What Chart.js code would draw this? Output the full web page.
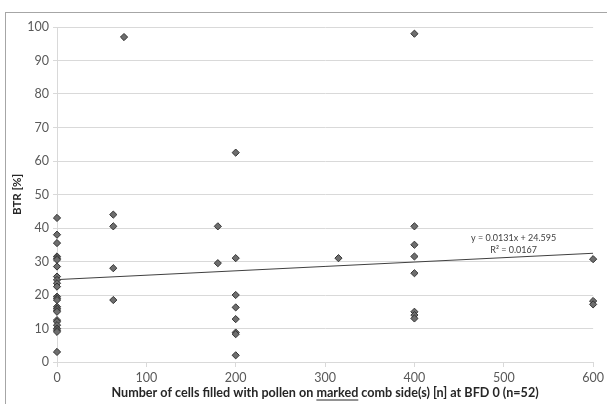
<!DOCTYPE html>
<html>
<head>
<meta charset="utf-8">
<script src="https://cdn.jsdelivr.net/npm/chart.js@4/dist/chart.umd.min.js"></script>
<style>
  html, body { margin: 0; padding: 0; background: #fff; overflow: hidden; }
  #wrap { position: relative; width: 607px; height: 404px; }
  #frame { position: absolute; left: 5px; top: 12px; width: 620px; height: 420px; border: 1px solid #a6a6a6; box-sizing: border-box; }
  canvas { position: absolute; left: 0; top: 0; }
</style>
</head>
<body>
<div id="wrap">
  <div id="frame"></div>
  <canvas id="btr-chart" width="607" height="404"></canvas>
</div>
<script>
// pollen cells per comb side (x) and BTR in % (y)
var cells0 = [0, 0, 0, 0, 0, 0, 0, 0, 0, 0, 0, 0, 0, 0, 0, 0, 0, 0, 0, 0, 0, 0, 0, 0, 0];
var btr0 = [43, 38, 35.5, 31.5, 31, 30.5, 28.5, 25.5, 24.5, 23.5, 22.5, 19.5, 19, 18.5, 16.5, 16, 15.5, 15, 12.5, 12, 11, 10, 9.5, 9, 3];
var cellsMid = [63, 63, 63, 63, 75, 180, 180, 200, 200, 200, 200, 200, 200, 200, 200, 315];
var btrMid = [44, 40.5, 28, 18.5, 97, 40.5, 29.5, 62.5, 31, 20, 16.3, 12.8, 8.8, 8.3, 2, 31];
var cellsHigh = [400, 400, 400, 400, 400, 400, 400, 400, 600, 600, 600];
var btrHigh = [98, 40.5, 35, 31.5, 26.5, 15, 14, 13, 30.7, 18.2, 17.2];

// linear trend shown in the chart
var trendSlope = 0.0131;
var trendIntercept = 24.595;
var trendLabel = ['y = 0.0131x + 24.595', 'R\u00b2 = 0.0167'];

var yTicks = [0, 10, 20, 30, 40, 50, 60, 70, 80, 90, 100];
var xTicks = [0, 100, 200, 300, 400, 500, 600];

var xTitleParts = ['Number of cells filled with pollen on ', 'marked', ' comb side(s) [n] at BFD 0 (n=52)'];
var yTitle = 'BTR [%]';

var points = [];
var allX = cells0.concat(cellsMid, cellsHigh);
var allY = btr0.concat(btrMid, btrHigh);
for (var i = 0; i < allX.length; i++) {
  points.push({ x: allX[i], y: allY[i] });
}

var trend = [
  { x: 0, y: trendIntercept },
  { x: 600, y: trendIntercept + trendSlope * 600 }
];

var FONT = 'Lato, "Open Sans", sans-serif';

// draws axis titles (with the underlined word) and the trend equation
var titlesPlugin = {
  id: 'titles',
  afterDraw: function(chart) {
    var ctx = chart.ctx;
    var area = chart.chartArea;
    ctx.save();
    ctx.fillStyle = '#262626';
    ctx.strokeStyle = '#262626';
    ctx.font = 'bold 12.6px ' + FONT;
    ctx.textBaseline = 'middle';

    // x title
    var total = 0;
    for (var i = 0; i < xTitleParts.length; i++) total += ctx.measureText(xTitleParts[i]).width;
    var x = (area.left + area.right) / 2 - total / 2;
    var y = 393;
    ctx.textAlign = 'left';
    for (var j = 0; j < xTitleParts.length; j++) {
      var w = ctx.measureText(xTitleParts[j]).width;
      ctx.fillText(xTitleParts[j], x, y);
      if (j === 1) {
        ctx.lineWidth = 1;
        ctx.beginPath();
        ctx.moveTo(x, y + 7);
        ctx.lineTo(x + w, y + 7);
        ctx.stroke();
      }
      x += w;
    }

    // y title
    ctx.font = 'bold 11.5px ' + FONT;
    ctx.translate(17, (area.top + area.bottom) / 2);
    ctx.rotate(-Math.PI / 2);
    ctx.textAlign = 'center';
    ctx.fillText(yTitle, 0, 0);
    ctx.restore();

    // trend equation
    ctx.save();
    ctx.fillStyle = '#404040';
    ctx.font = '9px ' + FONT;
    ctx.textAlign = 'center';
    ctx.textBaseline = 'middle';
    var lx = chart.scales.x.getPixelForValue(511);
    var ly = chart.scales.y.getPixelForValue(37);
    ctx.fillText(trendLabel[0], lx, ly);
    ctx.fillText(trendLabel[1], lx, ly + 12);
    ctx.restore();
  }
};

var ctx = document.getElementById('btr-chart').getContext('2d');
var btrChart = new Chart(ctx, {
  type: 'scatter',
  data: {
    datasets: [
      {
        label: 'BTR',
        data: points,
        pointStyle: 'rectRot',
        pointRadius: 3.6,
        backgroundColor: '#6e6e6e',
        borderColor: '#333333',
        borderWidth: 1,
        clip: false,
        order: 0
      },
      {
        label: 'Trend',
        type: 'line',
        data: trend,
        borderColor: '#404040',
        borderWidth: 1,
        pointRadius: 0,
        fill: false,
        order: 1
      }
    ]
  },
  options: {
    responsive: false,
    animation: false,
    layout: { padding: { left: 0, right: 10, top: 27, bottom: 0 } },
    plugins: {
      legend: { display: false },
      tooltip: { enabled: false }
    },
    scales: {
      x: {
        type: 'linear',
        min: 0,
        max: 600,
        afterBuildTicks: function(scale) {
          scale.ticks = xTicks.map(function(v) { return { value: v }; });
        },
        afterFit: function(scale) { scale.height = 42; },
        grid: {
          drawOnChartArea: false,
          drawTicks: true,
          tickLength: 5,
          color: '#d9d9d9'
        },
        border: { display: true, color: '#d9d9d9' },
        ticks: {
          color: '#595959',
          padding: 3,
          maxRotation: 0,
          font: { family: FONT, size: 12.5 }
        }
      },
      y: {
        type: 'linear',
        min: 0,
        max: 100,
        afterBuildTicks: function(scale) {
          scale.ticks = yTicks.map(function(v) { return { value: v }; });
        },
        afterFit: function(scale) { scale.width = 57; },
        grid: {
          color: '#d9d9d9',
          drawTicks: true,
          tickLength: 4
        },
        border: { display: true, color: '#d9d9d9' },
        ticks: {
          color: '#595959',
          padding: 4,
          font: { family: FONT, size: 12.5 }
        }
      }
    }
  },
  plugins: [titlesPlugin]
});
</script>
</body>
</html>
